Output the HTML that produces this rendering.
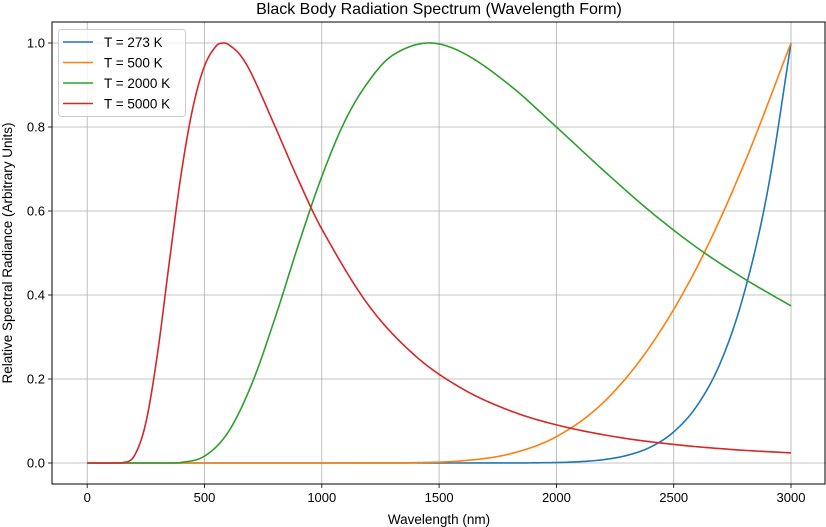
<!DOCTYPE html>
<html><head><meta charset="utf-8"><style>
html,body{margin:0;padding:0;background:#fff;}
svg{display:block;font-family:"Liberation Sans","DejaVu Sans",sans-serif;}
</style></head><body>
<svg id="chart" width="826" height="527" viewBox="0 0 826 527">
<rect width="826" height="527" fill="#fff"/>
<text x="439" y="14" text-anchor="middle" font-size="16">Black Body Radiation Spectrum (Wavelength Form)</text>
<g id="grid"></g>
<g id="ticks"></g>
<g id="series"></g>
<rect x="52" y="22" width="773" height="462" fill="none" stroke="#000" stroke-width="1"/>
<text x="439" y="524" text-anchor="middle" font-size="13.5">Wavelength (nm)</text>
<text transform="translate(12,253) rotate(-90)" text-anchor="middle" font-size="13.5">Relative Spectral Radiance (Arbitrary Units)</text>
<g id="legend"></g>
</svg>
<script>
const xTicks=[0,500,1000,1500,2000,2500,3000];
const yTicks=[0.0,0.2,0.4,0.6,0.8,1.0];
const seriesNames=["T = 273 K","T = 500 K","T = 2000 K","T = 5000 K"];
const seriesColors=["#1f77b4","#ff7f0e","#2ca02c","#d62728"];
const wl273=[0,1800,2000,2100,2200,2300,2400,2500,2600,2700,2800,2900,3000];
const val273=[0,0.0001,0.0011,0.0032,0.0079,0.018,0.0377,0.0741,0.137,0.240,0.404,0.647,1.0];
const wl500=[0,1200,1400,1600,1800,2000,2200,2400,2600,2800,3000];
const val500=[0,0.0001,0.0008,0.0053,0.0215,0.0627,0.144,0.278,0.467,0.712,1.0];
const wl2000=[0,300,400,500,600,700,800,900,1000,1100,1200,1300,1450,1600,1800,2000,2200,2400,2600,2800,3000];
const val2000=[0,0,0.0014,0.0164,0.0727,0.186,0.344,0.519,0.682,0.816,0.909,0.970,1.0,0.977,0.900,0.800,0.697,0.599,0.5125,0.439,0.374];
const wl5000=[0,100,150,200,250,300,350,400,450,500,550,580,600,650,700,800,900,1000,1200,1400,1600,1800,2000,2250,2500,2750,3000];
const val5000=[0,0,0.0006,0.0164,0.0959,0.262,0.478,0.686,0.845,0.945,0.993,1.0,0.997,0.973,0.927,0.802,0.674,0.557,0.375,0.2545,0.1765,0.125,0.0908,0.0625,0.0442,0.0321,0.024];

const NS="http://www.w3.org/2000/svg";
const X0=52,X1=826.2,Y0=484,Y1=22;
const xMin=-150,xMax=3150,yMin=-0.05,yMax=1.05;
function xScale(v){return X0+(v-xMin)/(xMax-xMin)*(X1-X0);}
function yScale(v){return Y0-(v-yMin)/(yMax-yMin)*(Y0-Y1);}
function mk(tag,attrs,parent){const e=document.createElementNS(NS,tag);for(const k in attrs)e.setAttribute(k,attrs[k]);parent.appendChild(e);return e;}
const grid=document.getElementById('grid'),ticks=document.getElementById('ticks');
xTicks.forEach(t=>{
  const x=xScale(t);
  const g=mk('line',{x1:x,x2:x,y1:Y1,y2:Y0,stroke:'#b0b0b0','stroke-width':0.8},grid);
  
  
  mk('line',{x1:x,x2:x,y1:Y0,y2:Y0+4,stroke:'#000','stroke-width':0.8},ticks);
  const tx=mk('text',{x:x,y:Y0+18,'text-anchor':'middle','font-size':13},ticks);
  tx.textContent=t;
  
  
});
yTicks.forEach(t=>{
  const y=yScale(t);
  const g=mk('line',{x1:X0,x2:X1,y1:y,y2:y,stroke:'#b0b0b0','stroke-width':0.8},grid);
  
  
  mk('line',{x1:X0-4,x2:X0,y1:y,y2:y,stroke:'#000','stroke-width':0.8},ticks);
  const tx=mk('text',{x:X0-7,y:y+4.5,'text-anchor':'end','font-size':13},ticks);
  tx.textContent=t.toFixed(1);
  
  
});
function smoothPath(xs,ys){
  const n=xs.length,m=new Array(n);
  m[0]=(ys[1]-ys[0])/(xs[1]-xs[0]);
  m[n-1]=(ys[n-1]-ys[n-2])/(xs[n-1]-xs[n-2]);
  for(let i=1;i<n-1;i++){m[i]=(ys[i+1]-ys[i-1])/(xs[i+1]-xs[i-1]);}
  let p='M'+xScale(xs[0]).toFixed(2)+','+yScale(ys[0]).toFixed(2);
  for(let i=0;i<n-1;i++){
    const h=xs[i+1]-xs[i];
    for(let k=1;k<=16;k++){
      const t=k/16,t2=t*t,t3=t2*t;
      let v=(2*t3-3*t2+1)*ys[i]+(t3-2*t2+t)*h*m[i]+(-2*t3+3*t2)*ys[i+1]+(t3-t2)*h*m[i+1];
      if(v<0)v=0;
      p+='L'+xScale(xs[i]+t*h).toFixed(2)+','+yScale(v).toFixed(2);
    }
  }
  return p;
}
const series=document.getElementById('series');
const allWl=[wl273,wl500,wl2000,wl5000],allVal=[val273,val500,val2000,val5000];
const sNames=['series-273k','series-500k','series-2000k','series-5000k'];
allWl.forEach((w,i)=>{
  const p=mk('path',{d:smoothPath(w,allVal[i]),fill:'none',stroke:seriesColors[i],'stroke-width':1.6,'stroke-linejoin':'round'},series);
  
  
});
const legend=document.getElementById('legend');
mk('rect',{x:58.5,y:29.5,width:127,height:87,rx:3,fill:'#fff','fill-opacity':0.8,stroke:'#ccc'},legend);
seriesNames.forEach((n,i)=>{
  const y=42+i*20.5;
  const l=mk('line',{x1:63,x2:93,y1:y,y2:y,stroke:seriesColors[i],'stroke-width':1.6},legend);
  
  
  const t=mk('text',{x:104,y:y+5,'font-size':13.5},legend);
  t.textContent=n;
  
  
});
</script>
</body></html>
